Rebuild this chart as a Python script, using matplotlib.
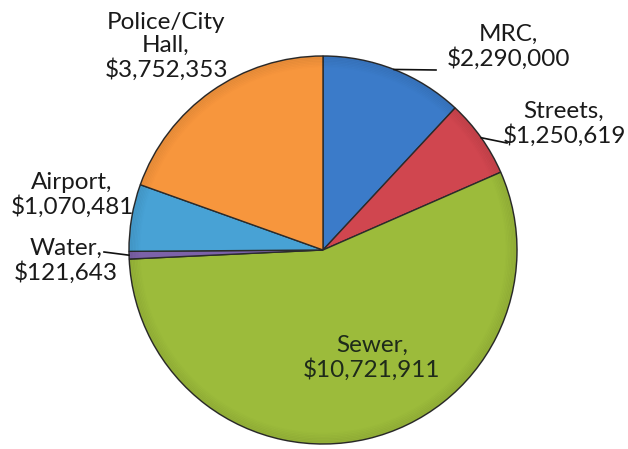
import numpy as np
import matplotlib.pyplot as plt

# Capital project spending by department
departments = ["MRC", "Streets", "Sewer", "Water", "Airport", "Police/City\nHall"]
amounts = [2290000, 1250619, 10721911, 121643, 1070481, 3752353]
colors = ["#3B7BC9", "#D0464F", "#9CBB3B", "#7C62A9", "#48A2D5", "#F7963D"]

W, H = 628, 449
cx, cy, R = 323, 250, 194  # pie centre / radius in pixels (y from top)

# label block centre (x, y from top) and leader end point (None = no leader)
label_pos = [(508, 47), (564, 124), (372, 358), (66, 261), (72, 195), (166, 46)]
leader_end = [(436, 70), (507, 143), None, (104, 252), None, None]

plt.rcParams['font.family'] = ['Lato', 'DejaVu Sans']

fig = plt.figure(figsize=(W / 100, H / 100), dpi=100)
ax = fig.add_axes([0, 0, 1, 1])

wedges, _ = ax.pie(amounts, colors=colors, startangle=90, counterclock=False,
                   center=(cx, H - cy), radius=R,
                   wedgeprops=dict(edgecolor='#2b2b2b', linewidth=1.0))

# pie() sets its own limits, so put the pixel frame back afterwards
ax.set_xlim(0, W)
ax.set_ylim(0, H)
ax.set_aspect('equal')
ax.axis('off')

# darker rim for a bit of depth
for i in range(8):
    rim = plt.Circle((cx, H - cy), R - i * 1.5, fill=False, lw=1.5,
                     color='black', alpha=0.06 * (8 - i) / 8)
    ax.add_patch(rim)

for i, (w, name, val) in enumerate(zip(wedges, departments, amounts)):
    text = "%s,\n$%s" % (name, format(val, ","))
    lx, ly = label_pos[i]
    color = '#1e2a1a' if name == "Sewer" else '#1a1a1a'
    ax.text(lx, H - ly, text, ha='center', va='center', fontsize=17.5,
            color=color, linespacing=1.12)
    if leader_end[i] is not None:
        mid = np.deg2rad((w.theta1 + w.theta2) / 2)
        sx = cx + R * np.cos(mid)
        sy = (H - cy) + R * np.sin(mid)
        ex, ey = leader_end[i]
        ax.plot([sx, ex], [sy, H - ey], color='#111111', lw=1.2)

fig.savefig("out.png", dpi=100, facecolor='white')
